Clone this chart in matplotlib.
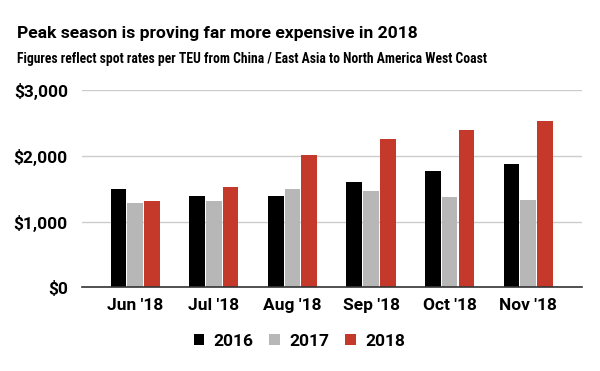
import matplotlib
matplotlib.use("Agg")
import matplotlib.pyplot as plt
import numpy as np
from matplotlib.patches import Patch

months = ["Jun '18", "Jul '18", "Aug '18", "Sep '18", "Oct '18", "Nov '18"]
series_names = ["2016", "2017", "2018"]
v2016 = [1500, 1395, 1395, 1605, 1775, 1880]
v2017 = [1275, 1305, 1500, 1470, 1380, 1320]
v2018 = [1305, 1530, 2015, 2260, 2395, 2530]
yticks = [0, 1000, 2000, 3000]
ytick_labels = ["$0", "$1,000", "$2,000", "$3,000"]
colors = ["#000000", "#b7b7b7", "#c5392a"]

plt.rcParams['font.family'] = ['Roboto', 'DejaVu Sans']
plt.rcParams['font.weight'] = 'bold'

fig = plt.figure(figsize=(6, 3.71), dpi=100)
ax = fig.add_axes([81.7/600, 1-287.3/371, 500/600, (287.3-90)/371])

x = np.arange(len(months))
pitch = 0.213
width = 0.2
for i, (vals, c) in enumerate(zip([v2016, v2017, v2018], colors)):
    ax.bar(x + (i-1)*pitch, vals, width=width, color=c, zorder=3)

ax.set_xlim(-0.68, len(months)-1+0.68)
ax.set_ylim(0, 3000)
ax.set_yticks(yticks)
ax.set_yticklabels(ytick_labels)
ax.set_xticks(x)
ax.set_xticklabels(months)
ax.grid(axis='y', color='#cccccc', linewidth=1, zorder=0)
for s in ['top', 'right', 'left']:
    ax.spines[s].set_visible(False)
ax.spines['bottom'].set_color('#333333')
ax.spines['bottom'].set_linewidth(1.2)
ax.spines['bottom'].set_zorder(4)
ax.tick_params(axis='both', length=0, labelsize=12.5, colors='#000000')
ax.tick_params(axis='y', pad=10)
ax.tick_params(axis='x', pad=8)
for lab in ax.get_xticklabels() + ax.get_yticklabels():
    lab.set_fontweight('bold')

fig.text(17/600, 1-37.7/371, "Peak season is proving far more expensive in 2018",
         fontsize=12.6, fontweight='bold', ha='left', va='baseline')
fig.text(17/600, 1-62.7/371, "Figures reflect spot rates per TEU from China / East Asia to North America West Coast",
         fontsize=9.85, fontweight='bold', ha='left', va='baseline',
         family=['Roboto Condensed', 'Roboto'])

handles = [Patch(facecolor=c, edgecolor='none') for c in colors]
fig.legend(handles, series_names, loc='center', bbox_to_anchor=(0.499, 1-341/371),
           ncol=3, frameon=False, prop={'size': 12.5, 'weight': 'bold'},
           handlelength=0.63, handleheight=0.63, handletextpad=0.52, columnspacing=0.92)

fig.savefig("out.png", dpi=100)
